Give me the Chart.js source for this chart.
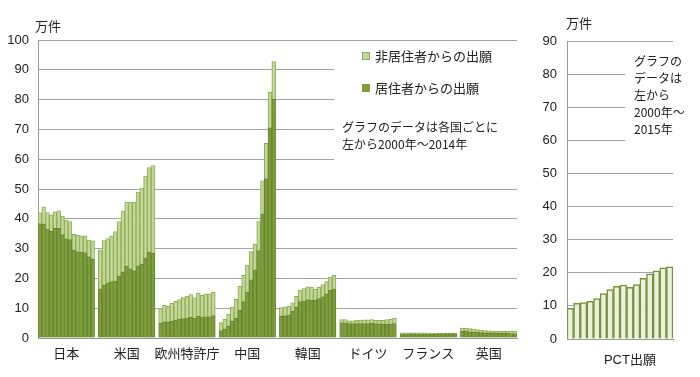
<!DOCTYPE html>
<html>
<head>
<meta charset="utf-8">
<script src="https://cdn.jsdelivr.net/npm/chart.js@4"></script>
<style>
  html, body { margin: 0; padding: 0; background: #fff; }
  #wrap { position: relative; width: 700px; height: 377px; }
  #left { position: absolute; left: 0; top: 0; }
  #right { position: absolute; left: 530px; top: 0; }
</style>
</head>
<body>
<div id="wrap">
  <canvas id="left" width="530" height="377" style="width:530px;height:377px"></canvas>
  <canvas id="right" width="170" height="377" style="width:170px;height:377px"></canvas>
</div>
<script>
// 万件, 2000年〜2014年
const countries = ['日本', '米国', '欧州特許庁', '中国', '韓国', 'ドイツ', 'フランス', '英国'];

const japanResident  = [38.4, 38.3, 36.5, 35.8, 36.8, 36.8, 34.7, 33.3, 33.0, 29.5, 29.0, 28.8, 28.7, 27.2, 26.6];
const japanNonRes    = [3.6, 5.6, 5.6, 5.5, 5.5, 5.9, 6.2, 6.3, 6.1, 5.3, 5.5, 5.5, 5.6, 5.7, 6.0];
const usResident     = [16.5, 17.8, 18.4, 18.9, 19.0, 20.8, 22.2, 24.1, 23.2, 22.5, 24.2, 24.8, 26.9, 28.8, 28.5];
const usNonRes       = [13.1, 14.9, 15.0, 15.3, 16.7, 18.3, 20.4, 21.5, 22.4, 23.1, 24.8, 25.6, 27.4, 28.4, 29.4];
const epoResident    = [5.0, 5.4, 5.4, 5.7, 6.0, 6.3, 6.5, 6.8, 7.0, 6.6, 7.3, 7.1, 7.2, 7.2, 7.5];
const epoNonRes      = [5.0, 5.6, 5.2, 5.9, 6.3, 6.6, 7.1, 7.3, 7.6, 6.9, 7.8, 7.2, 7.6, 7.6, 7.8];
const chinaResident  = [2.5, 3.0, 4.0, 5.7, 6.6, 9.3, 12.2, 15.3, 19.5, 22.9, 29.3, 41.6, 53.5, 70.5, 80.1];
const chinaNonRes    = [2.7, 3.3, 4.0, 4.8, 6.4, 8.0, 8.8, 9.2, 9.5, 8.6, 9.8, 11.1, 11.8, 12.0, 12.7];
const koreaResident  = [7.3, 7.4, 7.7, 9.0, 10.5, 12.2, 12.5, 12.9, 12.7, 12.7, 13.2, 13.8, 14.8, 16.0, 16.4];
const koreaNonRes    = [2.9, 3.1, 2.9, 2.8, 3.5, 3.9, 4.1, 4.3, 4.4, 3.6, 3.8, 4.1, 4.1, 4.5, 4.6];
const germanyResident = [5.2, 5.0, 4.8, 4.8, 4.8, 4.8, 4.8, 4.8, 4.9, 4.8, 4.7, 4.7, 4.7, 4.7, 4.8];
const germanyNonRes  = [1.0, 1.2, 1.0, 1.0, 1.1, 1.2, 1.3, 1.3, 1.3, 1.1, 1.2, 1.2, 1.5, 1.6, 1.8];
const franceResident = [1.40, 1.41, 1.37, 1.38, 1.40, 1.43, 1.43, 1.41, 1.44, 1.41, 1.46, 1.47, 1.45, 1.47, 1.45];
const franceNonRes   = [0.34, 0.31, 0.33, 0.32, 0.33, 0.30, 0.27, 0.25, 0.23, 0.19, 0.20, 0.19, 0.19, 0.16, 0.20];
const ukResident     = [2.3, 2.2, 2.1, 2.0, 1.9, 1.8, 1.7, 1.7, 1.7, 1.6, 1.6, 1.6, 1.6, 1.5, 1.5];
const ukNonRes       = [1.0, 1.1, 1.1, 1.0, 0.9, 0.8, 0.8, 0.7, 0.6, 0.6, 0.6, 0.6, 0.7, 0.8, 0.8];

// PCT出願 2000年〜2015年
const pctYears = ['2000','2001','2002','2003','2004','2005','2006','2007','2008','2009','2010','2011','2012','2013','2014','2015'];
const pctValues = [9.3, 10.8, 11.0, 11.4, 12.2, 13.7, 14.9, 15.9, 16.3, 15.6, 16.4, 18.3, 19.7, 20.6, 21.5, 21.8];

const residentByCountry = [japanResident, usResident, epoResident, chinaResident, koreaResident, germanyResident, franceResident, ukResident];
const nonResByCountry = [japanNonRes, usNonRes, epoNonRes, chinaNonRes, koreaNonRes, germanyNonRes, franceNonRes, ukNonRes];

const FONT = "'Liberation Sans', 'Noto Sans CJK JP', sans-serif";
const JP_FONT = "'Noto Sans CJK JP', sans-serif";
Chart.defaults.font.family = FONT;
Chart.defaults.font.size = 13;
Chart.defaults.color = '#222';

const DARK = '#7e9e3e';
const DARK_EDGE = '#66842c';
const LIGHT = '#c3d69b';
const LIGHT_EDGE = '#8fae4f';
const GRID = '#a3a3a3';

// one slot per year, one empty slot between countries
const labels = [];
const residentData = [];
const nonResData = [];
countries.forEach((name, g) => {
    if (g > 0) {
        labels.push('');
        residentData.push(null);
        nonResData.push(null);
    }
    residentByCountry[g].forEach((v, i) => {
        labels.push(i === 7 ? name : '');
        residentData.push(v);
        nonResData.push(nonResByCountry[g][i]);
    });
});

const leftDeco = {
    id: 'leftDeco',
    beforeDatasetsDraw(chart) {
        const { ctx, scales: { x, y }, chartArea } = chart;
        const gapIndex = 16 * 5 - 1;
        const x0 = x.getPixelForValue(gapIndex) - x.width / labels.length;
        const top = y.getPixelForValue(97);
        ctx.save();
        ctx.fillStyle = '#fff';
        ctx.fillRect(x0, top, chartArea.right - x0 + 2, y.getPixelForValue(53) - top);
        ctx.restore();
    },
    afterDraw(chart) {
        const ctx = chart.ctx;
        ctx.save();
        ctx.textBaseline = 'middle';
        ctx.textAlign = 'left';
        ctx.fillStyle = '#222';
        ctx.font = '13px ' + JP_FONT;
        ctx.fillText('万件', 35, 26);

        ctx.fillStyle = LIGHT;
        ctx.fillRect(362, 52, 8, 8);
        ctx.strokeStyle = LIGHT_EDGE;
        ctx.strokeRect(362.5, 52.5, 7, 7);
        ctx.fillStyle = DARK;
        ctx.fillRect(362, 84, 8, 8);
        ctx.fillStyle = '#222';
        ctx.fillText('非居住者からの出願', 375, 56);
        ctx.fillText('居住者からの出願', 375, 88);

        ctx.font = '12px ' + JP_FONT;
        ctx.fillText('グラフのデータは各国ごとに', 342, 127);
        ctx.fillText('左から2000年～2014年', 342, 144);
        ctx.restore();
    }
};

new Chart(document.getElementById('left'), {
    type: 'bar',
    data: {
        labels,
        datasets: [{
            label: '居住者からの出願',
            data: residentData,
            backgroundColor: DARK,
            borderColor: DARK_EDGE,
            borderWidth: 1,
            barPercentage: 1,
            categoryPercentage: 1
        }, {
            label: '非居住者からの出願',
            data: nonResData,
            backgroundColor: LIGHT,
            borderColor: LIGHT_EDGE,
            borderWidth: 1,
            barPercentage: 1,
            categoryPercentage: 1
        }]
    },
    options: {
        responsive: false,
        animation: false,
        layout: { padding: { left: 0, right: 13, top: 40, bottom: 0 } },
        plugins: { legend: { display: false }, tooltip: { enabled: false } },
        scales: {
            x: {
                stacked: true,
                grid: { display: false, drawTicks: false },
                border: { display: true, color: '#999' },
                ticks: {
                    autoSkip: false,
                    maxRotation: 0,
                    minRotation: 0,
                    padding: 7,
                    font: { family: JP_FONT, size: 13 }
                },
                afterFit(s) { s.height = 39; }
            },
            y: {
                stacked: true,
                min: 0,
                max: 100,
                ticks: { stepSize: 10, padding: 9 },
                grid: { color: GRID, lineWidth: 1, drawTicks: false },
                border: { display: true, color: '#999' },
                afterFit(s) { s.width = 38; }
            }
        }
    },
    plugins: [leftDeco]
});

const rightDeco = {
    id: 'rightDeco',
    beforeDatasetsDraw(chart) {
        const { ctx, scales: { x, y }, chartArea } = chart;
        const x0 = x.getPixelForValue(9) - x.width / pctValues.length / 2 - 1.5;
        const top = y.getPixelForValue(87);
        ctx.save();
        ctx.fillStyle = '#fff';
        ctx.fillRect(x0, top, chartArea.right - x0 + 2, y.getPixelForValue(54) - top);
        ctx.restore();
    },
    afterDraw(chart) {
        const ctx = chart.ctx;
        ctx.save();
        ctx.textBaseline = 'middle';
        ctx.textAlign = 'left';
        ctx.fillStyle = '#222';
        ctx.font = '13px ' + JP_FONT;
        ctx.fillText('万件', 36, 23);
        ctx.font = '12px ' + JP_FONT;
        ['グラフの', 'データは', '左から', '2000年～', '2015年'].forEach((t, i) => {
            ctx.fillText(t, 104, 61 + i * 17);
        });
        ctx.restore();
    }
};

new Chart(document.getElementById('right'), {
    type: 'bar',
    data: {
        labels: pctYears,
        datasets: [{
            label: 'PCT出願',
            data: pctValues,
            backgroundColor: '#ebf1de',
            borderColor: '#77933c',
            borderWidth: 1.5,
            barPercentage: 1,
            categoryPercentage: 1
        }]
    },
    options: {
        responsive: false,
        animation: false,
        layout: { padding: { left: 0, right: 27, top: 41, bottom: 0 } },
        plugins: { legend: { display: false }, tooltip: { enabled: false } },
        scales: {
            x: {
                grid: { display: false, drawTicks: false },
                border: { display: true, color: '#999' },
                ticks: {
                    autoSkip: false,
                    maxRotation: 0,
                    minRotation: 0,
                    padding: 14,
                    font: { family: FONT, size: 13 },
                    callback: (v, i) => (i === 9 ? 'PCT出願' : '')
                },
                afterFit(s) { s.height = 38; }
            },
            y: {
                min: 0,
                max: 90,
                ticks: { stepSize: 10, padding: 10 },
                grid: { color: GRID, lineWidth: 1, drawTicks: false },
                border: { display: true, color: '#999' },
                afterFit(s) { s.width = 37; }
            }
        }
    },
    plugins: [rightDeco]
});
</script>
</body>
</html>
